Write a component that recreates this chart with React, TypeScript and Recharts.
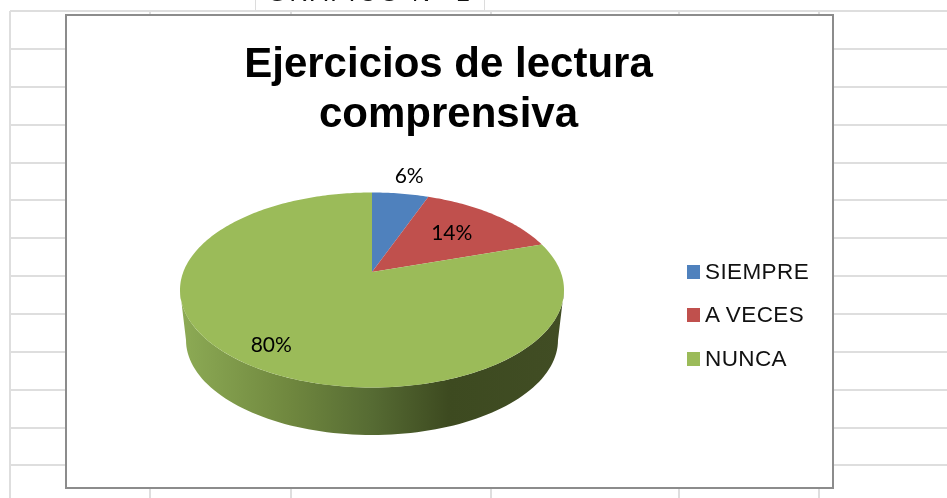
import React from "react";
import { PieChart, Pie, Cell, Legend } from "recharts";

const categories = ["SIEMPRE", "A VECES", "NUNCA"];
const values = [5.7, 14.3, 80];
const colors = ["#4f81bd", "#c0504d", "#9bbb59"];
const labelReach = [1.0, 0.575, 0.91];
const labelShift = [[3, -2], [0, -2], [2, 0]];
const titleLines = ["Ejercicios de lectura", "comprensiva"];
const clippedHeading = "GRÁFICO N° 1";
const hLines = [11, 49, 87, 125, 163, 200, 238, 276, 314, 352, 390, 428, 465];
const vLines = [10, 150, 291, 491, 679, 819];

const tableData = categories.map((name, i) => ({ name, value: values[i] }));

const W = 947;
const H = 498;
const APEX_X = 372;
const APEX_Y = 272;
const RX = 192;
const RY = 97.5;
const TILT = 18; // ellipse centre sits below the apex
const K = TILT / RY;

// perspective projection of a point of the pie's disc (clockwise degrees from 12 o'clock)
function project(cx: number, cy: number, clockDeg: number, f = 1) {
  const a = (clockDeg * Math.PI) / 180;
  const x = f * Math.sin(a);
  const y = f * Math.cos(a);
  const d = 1 + K * y;
  const px = (x * Math.sqrt(1 - K * K)) / d;
  const py = (y + K) / d;
  return { x: cx + RX * px, y: cy + TILT - RY * py };
}

function SliceShape(props: any) {
  const { cx, cy, startAngle, endAngle, fill } = props;
  const from = 90 - startAngle;
  const to = 90 - endAngle;
  const pts: string[] = [`${cx},${cy}`];
  const steps = Math.max(2, Math.ceil(Math.abs(to - from)));
  for (let i = 0; i <= steps; i++) {
    const p = project(cx, cy, from + ((to - from) * i) / steps);
    pts.push(`${p.x.toFixed(2)},${p.y.toFixed(2)}`);
  }
  const wrap = to - from > 180;
  let side = null;
  if (wrap) {
    const ey = cy + TILT;
    const bx = 186;
    const by = 340 - APEX_Y + cy;
    const bry = 95;
    let d = `M${cx - RX},${ey} `;
    for (let t = 0; t <= 180; t += 2) {
      const r = (t * Math.PI) / 180;
      d += `L${(cx - RX * Math.cos(r)).toFixed(2)},${(ey + RY * Math.sin(r)).toFixed(2)} `;
    }
    for (let t = 180; t >= 0; t -= 2) {
      const r = (t * Math.PI) / 180;
      d += `L${(cx - bx * Math.cos(r)).toFixed(2)},${(by + bry * Math.sin(r)).toFixed(2)} `;
    }
    d += "Z";
    side = (
      <>
        <defs>
          <linearGradient id="pieSide" gradientUnits="userSpaceOnUse" x1={cx - RX} y1={0} x2={cx + RX} y2={0}>
            <stop offset="0" stopColor="#8dab55" />
            <stop offset="0.28" stopColor="#70883f" />
            <stop offset="0.5" stopColor="#566b33" />
            <stop offset="0.7" stopColor="#3d4a20" />
            <stop offset="1" stopColor="#414d24" />
          </linearGradient>
        </defs>
        <path d={d} fill="url(#pieSide)" stroke="none" />
      </>
    );
  }
  return (
    <g>
      {side}
      <polygon points={pts.join(" ")} fill={fill} stroke="none" />
    </g>
  );
}

function SliceLabel(props: any) {
  const { cx, cy, midAngle, percent, index } = props;
  const a = ((90 - midAngle) * Math.PI) / 180;
  const f = labelReach[index];
  const [sx, sy] = labelShift[index];
  return (
    <text
      x={cx + RX * f * Math.sin(a) + sx}
      y={cy - RY * f * Math.cos(a) + sy}
      textAnchor="middle"
      dominantBaseline="central"
      fontFamily="Lato, 'Noto Sans', sans-serif"
      fontSize={21}
      fill="#000"
    >
      {`${Math.round(percent * 100)}%`}
    </text>
  );
}

function LegendList(props: any) {
  const { payload } = props;
  return (
    <div
      style={{
        fontFamily: "'Liberation Sans', Arial, sans-serif",
        fontSize: 22.5,
        letterSpacing: 0.4,
        color: "#111",
      }}
    >
      {(payload || []).map((e: any) => (
        <div key={e.value} style={{ height: 43.5, display: "flex", alignItems: "center" }}>
          <span style={{ width: 13, height: 14, background: e.color, marginRight: 5, display: "inline-block" }} />
          <span>{e.value}</span>
        </div>
      ))}
    </div>
  );
}

const abs = (s: React.CSSProperties): React.CSSProperties => ({ position: "absolute", ...s });

export default function App() {
  return (
    <div
      style={abs({
        left: 0,
        top: 0,
        width: W,
        height: H,
        overflow: "hidden",
        background: "#fff",
        filter: "blur(0.4px)",
      })}
    >
      {hLines.map((y) => (
        <div key={`h${y}`} style={abs({ left: 10, top: y - 1, width: W - 10, height: 2, background: "#dedede" })} />
      ))}
      {vLines.map((x) => (
        <div key={`v${x}`} style={abs({ left: x - 1, top: 11, width: 2, height: H - 11, background: "#dedede" })} />
      ))}
      <div
        style={abs({
          left: 255,
          top: -4,
          width: 228,
          height: 13,
          background: "#fff",
          border: "1.5px solid #dcdcdc",
          overflow: "hidden",
        })}
      >
        <div
          style={{
            position: "absolute",
            left: 0,
            right: 0,
            top: -19,
            textAlign: "center",
            fontFamily: "'Liberation Sans', Arial, sans-serif",
            fontSize: 25,
            letterSpacing: 3,
            color: "#111",
            whiteSpace: "nowrap",
          }}
        >
          {clippedHeading}
        </div>
      </div>
      <div
        style={abs({
          left: 65,
          top: 14,
          width: 765,
          height: 471,
          background: "#fff",
          border: "2px solid #8c8c8c",
          boxSizing: "content-box",
        })}
      />
      <div
        style={abs({
          left: 65,
          width: 767,
          top: 38,
          textAlign: "center",
          fontFamily: "'Liberation Sans', Arial, sans-serif",
          fontWeight: 700,
          fontSize: 42,
          lineHeight: "50px",
          color: "#000",
        })}
      >
        {titleLines.map((t) => (
          <div key={t}>{t}</div>
        ))}
      </div>
      <div style={abs({ left: 0, top: 0 })}>
        <PieChart width={W} height={H} margin={{ top: 0, right: 0, bottom: 0, left: 0 }}>
          <Pie
            data={tableData}
            dataKey="value"
            nameKey="name"
            cx={APEX_X}
            cy={APEX_Y}
            innerRadius={0}
            outerRadius={RX}
            startAngle={90}
            endAngle={-270}
            stroke="none"
            shape={SliceShape}
            label={SliceLabel}
            labelLine={false}
            isAnimationActive={false}
          >
            {categories.map((c, i) => (
              <Cell key={c} fill={colors[i]} />
            ))}
          </Pie>
          <Legend
            layout="vertical"
            align="right"
            verticalAlign="top"
            itemSorter={null}
            content={LegendList}
            wrapperStyle={{ left: 687, right: "auto", top: 250, width: 140 }}
          />
        </PieChart>
      </div>
    </div>
  );
}
